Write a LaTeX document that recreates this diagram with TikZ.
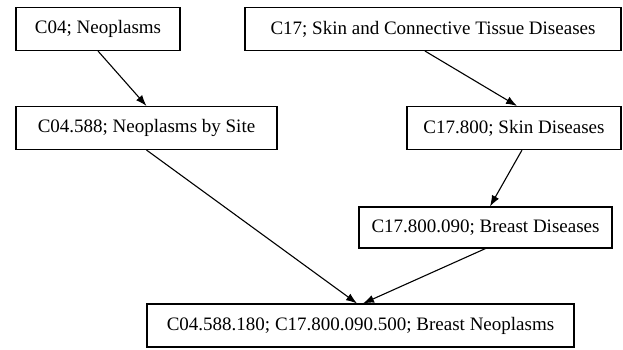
\documentclass[tikz,border=0pt]{standalone}
\usepackage{fontspec}
\setmainfont{Liberation Serif}
\usetikzlibrary{positioning, calc, arrows.meta}

\begin{document}
\begin{tikzpicture}[x=1pt, y=-1pt,
	term/.style={rectangle, draw, line width=1.1pt, align=center,
		font=\fontsize{19}{22}\selectfont, minimum height=43pt, inner sep=0pt},
	link/.style={line width=1.1pt, -{Latex[length=11pt,width=8pt]}}
	]
	\useasboundingbox (0,0) rectangle (623,350);

	% top row
	\node[term, minimum width=164pt] (neo) at (98,29) {C04; Neoplasms};
	\node[term, minimum width=376pt] (skin) at (433,29) {C17; Skin and Connective Tissue Diseases};
	% second row
	\node[term, minimum width=261pt] (site) at (146.5,128) {C04.588; Neoplasms by Site};
	\node[term, minimum width=214pt] (skind) at (514,128) {C17.800; Skin Diseases};
	% third and bottom row
	\node[term, minimum width=253pt, minimum height=41pt] (breastd) at (485.5,227.5) {C17.800.090; Breast Diseases};
	\node[term, minimum width=427pt] (breastn) at (360.5,325.5) {C04.588.180; C17.800.090.500; Breast Neoplasms};

	\draw[link] (neo.south) -- (site.north);
	\draw[link] ([xshift=-8pt]skin.south) -- ([xshift=3pt]skind.north);
	\draw[link] ([xshift=8pt]skind.south) -- ([xshift=4.5pt]breastd.north);
	\draw[link] (site.south) -- ([xshift=-3.5pt]breastn.north);
	\draw[link] (breastd.south) -- ([xshift=2.5pt]breastn.north);
\end{tikzpicture}
\end{document}
